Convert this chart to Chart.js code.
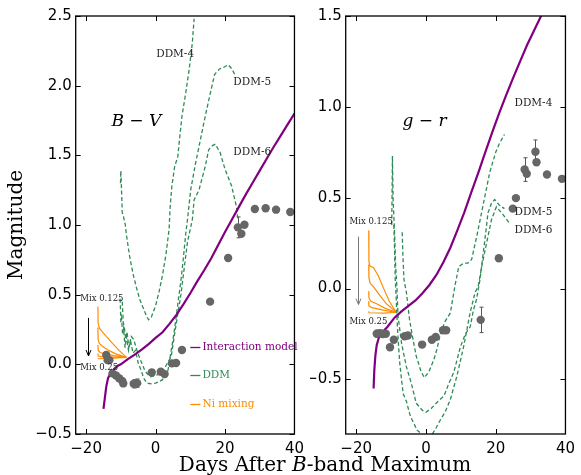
<!DOCTYPE html>
<html><head><meta charset="utf-8">
<script src="https://cdn.jsdelivr.net/npm/chart.js@4"></script>
<style>
html,body{margin:0;padding:0;background:#fff;}
#wrap{position:relative;width:581px;height:475px;overflow:hidden;background:#fff;}
#c1{position:absolute;left:0;top:0;}
#c2{position:absolute;left:310px;top:0;}
#xt{position:absolute;left:0;width:650px;top:452px;line-height:24px;text-align:center;font-family:'DejaVu Serif';font-size:20px;color:#000;white-space:nowrap;}
</style></head>
<body>
<div id="wrap">
<canvas id="c1" width="310" height="475"></canvas>
<canvas id="c2" width="271" height="475"></canvas>
<div id="xt">Days After <i>B</i>-band Maximum</div>
</div>
<script>
// ---------- tick labels ----------
const X_TICKS = [-20, 0, 20, 40];
const BV_TICKS = [-0.5, 0, 0.5, 1, 1.5, 2, 2.5];
const GR_TICKS = [-0.5, 0, 0.5, 1, 1.5];

// ---------- B-V panel ----------
const bvObsDays = [-14.2, -13.8, -13.3, -12.4, -11.4, -10.5, -9.6, -9.3, -6.3, -5.3, -1.1, 1.5, 2.6, 4.7, 5.9, 7.6, 15.7, 20.9, 23.7, 24.7, 25.6, 28.6, 31.7, 34.7, 38.8];
const bvObsColor = [0.067, 0.03, 0.03, -0.065, -0.08, -0.10, -0.12, -0.137, -0.14, -0.135, -0.058, -0.053, -0.07, 0.007, 0.01, 0.103, 0.45, 0.763, 0.983, 0.937, 1.002, 1.115, 1.12, 1.11, 1.093];
const bvObsErr = [0.02, 0.01, 0.01, 0.01, 0.01, 0.01, 0.01, 0.01, 0.03, 0.03, 0.02, 0.01, 0.01, 0.01, 0.01, 0.01, 0.01, 0.01, 0.075, 0.02, 0.01, 0.01, 0.01, 0.01, 0.01];

const bvModelDays = [-15.0, -14.6, -14.2, -13.7, -13.0, -12.0, -11.0, -10, -8, -6, -4, -2, 0, 2, 4, 6, 8, 10, 12, 14, 16, 18, 20, 22, 24, 26, 28, 30, 32, 34, 36, 38, 40];
const bvModelColor = [-0.32, -0.24, -0.16, -0.10, -0.065, -0.035, -0.012, 0.0, 0.038, 0.07, 0.105, 0.145, 0.19, 0.23, 0.29, 0.355, 0.43, 0.51, 0.595, 0.675, 0.76, 0.855, 0.95, 1.04, 1.13, 1.22, 1.305, 1.39, 1.475, 1.56, 1.64, 1.72, 1.80];

const bvDdm4Days = [-10.1, -10.0, -9.8, -9.6, -9.3, -9.0, -8.7, -8.4, -7.5, -6.5, -5.5, -4.6, -3.5, -2.5, -2.0, -1.2, 0.0, 1.0, 2.0, 3.0, 3.9, 4.2, 4.7, 5.5, 6.4, 7.0, 7.6, 8.7, 9.7, 10.6, 11.1];
const bvDdm4Color = [1.30, 1.39, 1.25, 1.09, 1.07, 1.03, 1.00, 0.93, 0.78, 0.65, 0.55, 0.47, 0.40, 0.34, 0.32, 0.34, 0.42, 0.52, 0.64, 0.79, 0.97, 1.13, 1.28, 1.42, 1.49, 1.64, 1.78, 1.95, 2.12, 2.31, 2.48];
const bvDdm5Days = [-10.2, -10.0, -9.8, -9.5, -9.2, -8.8, -8.4, -7.8, -7.2, -6.5, -5.8, -5.0, -4.2, -3.4, -2.5, -1.0, 0.0, 1.0, 2.0, 3.0, 3.6, 4.3, 5.0, 6.0, 6.6, 7.3, 8.0, 8.7, 9.2, 10.1, 11.5, 12.9, 14.3, 15.8, 17.0, 18.4, 19.5, 20.9, 22.0, 23.0];
const bvDdm5Color = [0.47, 0.30, 0.33, 0.22, 0.26, 0.12, 0.20, 0.10, 0.17, 0.08, 0.10, 0.01, -0.04, -0.10, -0.135, -0.14, -0.135, -0.125, -0.11, -0.07, -0.04, 0.07, 0.175, 0.35, 0.47, 0.60, 0.76, 0.94, 1.04, 1.25, 1.44, 1.61, 1.78, 1.95, 2.08, 2.12, 2.13, 2.15, 2.12, 2.07];
const bvDdm6Days = [-9.6, -9.3, -9.0, -8.6, -8.2, -7.7, -7.0, -6.3, -5.6, -4.8, -4.0, -3.0, -1.6, 0.0, 1.7, 3.0, 4.5, 5.5, 6.4, 7.3, 8.3, 9.2, 10.0, 10.6, 11.1, 12.5, 14.3, 15.3, 16.4, 17.2, 18.6, 20.0, 21.9, 23.3, 23.7];
const bvDdm6Color = [0.45, 0.30, 0.27, 0.18, 0.23, 0.12, 0.20, 0.18, 0.12, 0.06, 0.01, -0.05, -0.09, -0.08, -0.065, -0.01, 0.055, 0.22, 0.36, 0.50, 0.70, 0.88, 0.97, 1.04, 1.18, 1.25, 1.42, 1.54, 1.57, 1.58, 1.52, 1.40, 1.28, 1.13, 1.04];

const bvNiA_d = [-16.6, -16.55, -16.2, -15.2, -14.2, -12.4, -10.5, -8.4];
const bvNiA_c = [0.414, 0.30, 0.26, 0.23, 0.20, 0.15, 0.10, 0.05];
const bvNiB_d = [-16.6, -16.55, -16.2, -15.3, -13.5, -11.5, -8.4];
const bvNiB_c = [0.265, 0.18, 0.15, 0.13, 0.10, 0.075, 0.05];
const bvNiC_d = [-16.6, -16.5, -16.0, -14.5, -12.0, -8.4];
const bvNiC_c = [0.139, 0.10, 0.085, 0.075, 0.062, 0.05];
const bvNiD_d = [-16.6, -16.5, -15.5, -12.0, -8.4];
const bvNiD_c = [0.079, 0.06, 0.055, 0.052, 0.05];
const bvNiE_d = [-16.6, -16.5, -12.0, -8.4];
const bvNiE_c = [0.043, 0.04, 0.045, 0.05];

// ---------- g-r panel ----------
const grObsDays = [-14.1, -13.1, -12.4, -11.5, -10.3, -9.2, -6.1, -5.2, -1.1, 1.7, 2.8, 4.9, 5.8, 15.7, 20.9, 24.9, 25.8, 28.3, 28.9, 31.4, 31.7, 34.7, 39.0];
const grObsColor = [-0.248, -0.245, -0.25, -0.248, -0.323, -0.281, -0.262, -0.258, -0.308, -0.281, -0.266, -0.229, -0.229, -0.172, 0.167, 0.44, 0.498, 0.655, 0.632, 0.753, 0.695, 0.628, 0.604];
const grObsErr = [0.02, 0.01, 0.01, 0.01, 0.01, 0.01, 0.01, 0.01, 0.01, 0.01, 0.01, 0.01, 0.01, 0.07, 0.01, 0.01, 0.01, 0.065, 0.01, 0.065, 0.01, 0.01, 0.01];

const grModelDays = [-15.0, -14.8, -14.5, -14.1, -13.5, -12.5, -11, -9, -7, -5, -3, -1, 1, 3, 5, 7, 9, 11, 13, 15, 17, 19, 21, 23, 25, 27, 29, 31, 33, 35];
const grModelColor = [-0.55, -0.45, -0.37, -0.31, -0.27, -0.24, -0.21, -0.16, -0.125, -0.095, -0.065, -0.025, 0.02, 0.075, 0.145, 0.225, 0.32, 0.42, 0.53, 0.637, 0.75, 0.86, 0.965, 1.065, 1.16, 1.25, 1.34, 1.42, 1.5, 1.58];

const grDdm4Days = [-6.8, -6.6, -6.3, -5.6, -4.7, -3.8, -2.8, -1.5, -0.5, 0.8, 2.3, 3.2, 4.2, 5.5, 7.0, 8.3, 9.4, 10.8, 12.0, 13.1, 14.6, 16.5, 18.3, 20.0, 21.1, 22.5];
const grDdm4Color = [0.31, 0.18, 0.05, -0.02, -0.17, -0.27, -0.37, -0.45, -0.49, -0.46, -0.39, -0.33, -0.244, -0.18, -0.134, 0.013, 0.12, 0.14, 0.14, 0.16, 0.29, 0.47, 0.64, 0.75, 0.80, 0.848];
const grDdm5Days = [-9.8, -9.6, -9.5, -9.4, -9.2, -9.0, -8.8, -8.7, -8.3, -8.0, -7.0, -5.6, -4.2, -2.8, -1.0, 0.0, 1.5, 3.5, 5.2, 6.6, 8.0, 9.9, 11.3, 12.7, 13.6, 14.5, 15.5, 16.2, 16.9, 17.8, 18.8, 19.7, 21.0, 22.5];
const grDdm5Color = [0.35, 0.73, 0.60, 0.49, 0.40, 0.31, 0.20, 0.13, 0.0, -0.15, -0.30, -0.43, -0.52, -0.63, -0.67, -0.68, -0.66, -0.62, -0.59, -0.52, -0.46, -0.32, -0.25, -0.21, -0.12, -0.06, 0.05, 0.16, 0.27, 0.417, 0.47, 0.49, 0.46, 0.44];
const grDdm6Days = [-9.2, -9.0, -8.8, -8.6, -8.2, -7.8, -7.5, -7.0, -6.5, -5.6, -4.5, -3.5, -2.5, -1.2, 0.0, 1.5, 2.8, 4.2, 5.5, 7.0, 8.9, 10.8, 12.7, 14.1, 15.0, 16.0, 17.4, 18.8, 20.2, 22.0, 23.9];
const grDdm6Color = [0.35, 0.22, 0.05, -0.02, -0.2, -0.33, -0.41, -0.5, -0.58, -0.62, -0.7, -0.74, -0.78, -0.8, -0.82, -0.81, -0.77, -0.72, -0.68, -0.61, -0.48, -0.32, -0.13, -0.02, 0.013, 0.123, 0.252, 0.38, 0.45, 0.41, 0.36];

const grNiA_d = [-16.4, -16.35, -16.1, -15.0, -13.6, -12.2, -10.5, -8.5];
const grNiA_c = [0.32, 0.15, 0.125, 0.115, 0.068, 0.004, -0.07, -0.13];
const grNiB_d = [-16.4, -16.35, -16.0, -15.0, -13.5, -11.5, -8.5];
const grNiB_c = [0.132, 0.06, 0.03, 0.01, -0.03, -0.08, -0.13];
const grNiC_d = [-16.4, -16.35, -15.8, -14.0, -11.5, -8.5];
const grNiC_c = [-0.015, -0.05, -0.07, -0.085, -0.11, -0.13];
const grNiD_d = [-16.4, -16.35, -15.5, -12.0, -8.5];
const grNiD_c = [-0.07, -0.095, -0.105, -0.12, -0.13];
const grNiE_d = [-16.4, -16.3, -12.0, -8.5];
const grNiE_c = [-0.125, -0.133, -0.135, -0.13];

// ---------- helpers ----------
const PURPLE = '#800080', GREEN = '#2e8b57', ORANGE = '#ff8c00', GREY = '#666666';
const pts = (xs, ys) => xs.map((x, i) => ({x: x, y: ys[i]}));
const fmtMinus = s => String(s).replace('-', '\u2212');

function lineDs(xs, ys, color, width, dash) {
  return {type: 'scatter', data: pts(xs, ys), showLine: true, borderColor: color, backgroundColor: color,
    borderWidth: width, borderDash: dash || [], pointRadius: 0, tension: 0, fill: false};
}
function obsDs(xs, ys) {
  return {type: 'scatter', data: pts(xs, ys), showLine: false, pointRadius: 4.2, pointBackgroundColor: GREY,
    pointBorderColor: GREY, pointBorderWidth: 0};
}

const framePlugin = {
  id: 'frame',
  afterDraw(chart) {
    const {ctx, chartArea: a, scales} = chart;
    const xs = scales.x, ys = scales.y;
    ctx.save();
    ctx.strokeStyle = '#000'; ctx.lineWidth = 1.3;
    ctx.strokeRect(a.left, a.top, a.right - a.left, a.bottom - a.top);
    ctx.lineWidth = 1;
    ctx.beginPath();
    xs.ticks.forEach(t => {
      const p = Math.round(xs.getPixelForValue(t.value)) + 0.5;
      ctx.moveTo(p, a.bottom); ctx.lineTo(p, a.bottom - 5);
      ctx.moveTo(p, a.top); ctx.lineTo(p, a.top + 5);
    });
    ys.ticks.forEach(t => {
      const p = Math.round(ys.getPixelForValue(t.value)) + 0.5;
      ctx.moveTo(a.left, p); ctx.lineTo(a.left + 5, p);
      ctx.moveTo(a.right, p); ctx.lineTo(a.right - 5, p);
    });
    ctx.stroke();
    ctx.restore();
  }
};

function overlayPlugin(cfg) {
  return {
    id: 'overlay',
    beforeDatasetsDraw(chart) {
      const {ctx, scales: {x, y}, chartArea: a} = chart;
      ctx.save();
      ctx.beginPath(); ctx.rect(a.left, a.top, a.right - a.left, a.bottom - a.top); ctx.clip();
      ctx.strokeStyle = '#555'; ctx.lineWidth = 1;
      cfg.errDays.forEach((d, i) => {
        const e = cfg.errs[i];
        if (e < 0.015) return;
        const px = Math.round(x.getPixelForValue(d)) + 0.5;
        const y1 = y.getPixelForValue(cfg.errVals[i] - e), y2 = y.getPixelForValue(cfg.errVals[i] + e);
        ctx.beginPath();
        ctx.moveTo(px, y1); ctx.lineTo(px, y2);
        ctx.moveTo(px - 2, y1); ctx.lineTo(px + 2, y1);
        ctx.moveTo(px - 2, y2); ctx.lineTo(px + 2, y2);
        ctx.stroke();
      });
      ctx.restore();
    },
    afterDatasetsDraw(chart) {
      const {ctx, scales: {x, y}} = chart;
      ctx.save();
      const ar = cfg.arrow;
      const ax = Math.round(x.getPixelForValue(ar.x)) + 0.5, ay1 = y.getPixelForValue(ar.y1), ay2 = y.getPixelForValue(ar.y2);
      ctx.strokeStyle = ar.color; ctx.fillStyle = ar.color; ctx.lineWidth = 1;
      ctx.beginPath(); ctx.moveTo(ax, ay1); ctx.lineTo(ax, ay2 - 1); ctx.stroke();
      ctx.beginPath(); ctx.moveTo(ax - 2.5, ay2 - 6); ctx.lineTo(ax, ay2); ctx.lineTo(ax + 2.5, ay2 - 6); ctx.stroke();
      cfg.texts.forEach(t => {
        ctx.font = t.font; ctx.fillStyle = t.color; ctx.textAlign = 'left'; ctx.textBaseline = 'middle';
        ctx.fillText(t.text, x.getPixelForValue(t.x), y.getPixelForValue(t.y));
      });
      (cfg.legend || []).forEach(l => {
        const py = Math.round(y.getPixelForValue(l.y)) + 0.5;
        ctx.strokeStyle = l.color; ctx.lineWidth = 1.3;
        ctx.beginPath(); ctx.moveTo(x.getPixelForValue(l.x0), py); ctx.lineTo(x.getPixelForValue(l.x1), py); ctx.stroke();
        ctx.font = '10.5px "DejaVu Serif"'; ctx.fillStyle = l.color; ctx.textAlign = 'left'; ctx.textBaseline = 'middle';
        ctx.fillText(l.text, x.getPixelForValue(l.tx), py);
      });
      ctx.restore();
    }
  };
}

function makeOptions(yMin, yMax, yTicks, yWidth, padRight, withTitle) {
  return {
    responsive: false, animation: false, maintainAspectRatio: false,
    layout: {padding: {top: 16, right: padRight, left: 0, bottom: 0}},
    plugins: {legend: {display: false}, tooltip: {enabled: false}},
    scales: {
      x: {type: 'linear', min: -23, max: 40,
        afterBuildTicks: s => { s.ticks = X_TICKS.map(v => ({value: v})); },
        afterFit: s => { s.height = 41; },
        grid: {display: false, drawTicks: false}, border: {display: false},
        ticks: {padding: 6, color: '#000', font: {family: 'DejaVu Sans', size: 15}, maxRotation: 0,
          callback: v => fmtMinus(v)}},
      y: {type: 'linear', min: yMin, max: yMax,
        afterBuildTicks: s => { s.ticks = yTicks.map(v => ({value: v})); },
        afterFit: s => { s.width = yWidth; },
        grid: {display: false, drawTicks: false}, border: {display: false},
        title: {display: withTitle, text: 'Magnitude', color: '#000', font: {family: 'DejaVu Serif', size: 20}, padding: {top: 5, bottom: 0}},
        ticks: {padding: 4, color: '#000', font: {family: 'DejaVu Sans', size: 15},
          callback: v => fmtMinus(Number(v).toFixed(1))}}
    }
  };
}

const DASH = [4, 2.5];

new Chart(document.getElementById('c1'), {
  type: 'scatter',
  data: {datasets: [
    obsDs(bvObsDays, bvObsColor),
    lineDs(bvModelDays, bvModelColor, PURPLE, 2.2),
    lineDs(bvDdm4Days, bvDdm4Color, GREEN, 1.3, DASH),
    lineDs(bvDdm5Days, bvDdm5Color, GREEN, 1.3, DASH),
    lineDs(bvDdm6Days, bvDdm6Color, GREEN, 1.3, DASH),
    lineDs(bvNiA_d, bvNiA_c, ORANGE, 1.2),
    lineDs(bvNiB_d, bvNiB_c, ORANGE, 1.2),
    lineDs(bvNiC_d, bvNiC_c, ORANGE, 1.2),
    lineDs(bvNiD_d, bvNiD_c, ORANGE, 1.2),
    lineDs(bvNiE_d, bvNiE_c, ORANGE, 1.2)
  ]},
  options: makeOptions(-0.5, 2.5, BV_TICKS, 75.7, 10, true),
  plugins: [framePlugin, overlayPlugin({
    errDays: bvObsDays, errVals: bvObsColor, errs: bvObsErr,
    arrow: {x: -19.5, y1: 0.333, y2: 0.06, color: '#000'},
    texts: [
      {text: 'B \u2212 V', x: -12.7, y: 1.743, font: 'italic 17px "DejaVu Serif"', color: '#000'},
      {text: 'DDM-4', x: 0.2, y: 2.225, font: '10.5px "DejaVu Serif"', color: '#222'},
      {text: 'DDM-5', x: 22.4, y: 2.024, font: '10.5px "DejaVu Serif"', color: '#222'},
      {text: 'DDM-6', x: 22.4, y: 1.52, font: '10.5px "DejaVu Serif"', color: '#222'},
      {text: 'Mix 0.125', x: -21.7, y: 0.47, font: '8.5px "DejaVu Serif"', color: '#222'},
      {text: 'Mix 0.25', x: -21.7, y: -0.027, font: '8.5px "DejaVu Serif"', color: '#222'}
    ],
    legend: [
      {text: 'Interaction model', color: PURPLE, x0: 10.0, x1: 12.9, tx: 13.5, y: 0.124},
      {text: 'DDM', color: GREEN, x0: 10.0, x1: 12.9, tx: 13.5, y: -0.077},
      {text: 'Ni mixing', color: ORANGE, x0: 10.0, x1: 12.9, tx: 13.5, y: -0.286}
    ]
  })]
});

new Chart(document.getElementById('c2'), {
  type: 'scatter',
  data: {datasets: [
    obsDs(grObsDays, grObsColor),
    lineDs(grModelDays, grModelColor, PURPLE, 2.2),
    lineDs(grDdm4Days, grDdm4Color, GREEN, 1.3, DASH),
    lineDs(grDdm5Days, grDdm5Color, GREEN, 1.3, DASH),
    lineDs(grDdm6Days, grDdm6Color, GREEN, 1.3, DASH),
    lineDs(grNiA_d, grNiA_c, ORANGE, 1.2),
    lineDs(grNiB_d, grNiB_c, ORANGE, 1.2),
    lineDs(grNiC_d, grNiC_c, ORANGE, 1.2),
    lineDs(grNiD_d, grNiD_c, ORANGE, 1.2),
    lineDs(grNiE_d, grNiE_c, ORANGE, 1.2)
  ]},
  options: makeOptions(-0.8, 1.5, GR_TICKS, 35.7, 11, false),
  plugins: [framePlugin, overlayPlugin({
    errDays: grObsDays, errVals: grObsColor, errs: grObsErr,
    arrow: {x: -19.35, y1: 0.286, y2: -0.088, color: '#777'},
    texts: [
      {text: 'g \u2212 r', x: -6.7, y: 0.92, font: 'italic 17px "DejaVu Serif"', color: '#000'},
      {text: 'DDM-4', x: 25.4, y: 1.019, font: '10.5px "DejaVu Serif"', color: '#222'},
      {text: 'DDM-5', x: 25.4, y: 0.418, font: '10.5px "DejaVu Serif"', color: '#222'},
      {text: 'DDM-6', x: 25.4, y: 0.319, font: '10.5px "DejaVu Serif"', color: '#222'},
      {text: 'Mix 0.125', x: -21.9, y: 0.369, font: '8.5px "DejaVu Serif"', color: '#222'},
      {text: 'Mix 0.25', x: -21.9, y: -0.18, font: '8.5px "DejaVu Serif"', color: '#222'}
    ]
  })]
});
</script>
</body></html>
